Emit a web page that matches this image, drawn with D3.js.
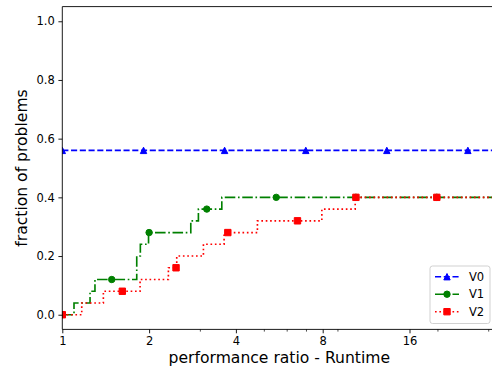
<!DOCTYPE html>
<html>
<head>
<meta charset="utf-8">
<script src="https://cdn.jsdelivr.net/npm/d3@7"></script>
<style>
  html, body { margin: 0; padding: 0; background: #fff; }
  svg { display: block; font-family: "DejaVu Sans", sans-serif; }
</style>
</head>
<body>
<svg id="chart" width="492" height="374"></svg>
<script>
// Performance profile: fraction of problems solved within a given runtime ratio.
const seriesNames = ["V0", "V1", "V2"];
const seriesColors = ["#0000ff", "#008000", "#ff0000"];

// Step change points (ratio, fraction) for each variant
const v0StepX = [1];
const v0StepY = [0.56];
const v1StepX = [1, 1.098, 1.248, 1.298, 1.812, 1.865, 1.991, 2.790, 2.965, 3.574];
const v1StepY = [0, 0.04, 0.08, 0.12, 0.20, 0.24, 0.28, 0.32, 0.36, 0.40];
const v2StepX = [1, 1.168, 1.388, 1.861, 2.333, 2.494, 3.086, 3.640, 4.750, 7.946, 10.37];
const v2StepY = [0, 0.04, 0.08, 0.12, 0.16, 0.20, 0.24, 0.28, 0.32, 0.36, 0.40];

// Marker positions along each profile
const v0MarkX = [1, 1.913, 3.655, 6.99, 13.35, 25.5];
const v0MarkY = [0.56, 0.56, 0.56, 0.56, 0.56, 0.56];
const v1MarkX = [1, 1.484, 2.00, 3.17, 5.52, 10.43, 19.9];
const v1MarkY = [0, 0.12, 0.28, 0.36, 0.40, 0.40, 0.40];
const v2MarkX = [1, 1.615, 2.48, 3.75, 6.54, 10.43, 19.9];
const v2MarkY = [0, 0.08, 0.16, 0.28, 0.32, 0.40, 0.40];

// Axis ticks
const xMajorTicks = [1, 2, 4, 8, 16];
const xMinorTicks = [3, 5, 6, 7, 9, 20, 30];
const yTicks = [0.0, 0.2, 0.4, 0.6, 0.8, 1.0];
const xDomain = [1, 32];
const yDomain = [-0.05, 1.05];

const xLabel = "performance ratio - Runtime";
const yLabel = "fraction of problems";

const svg = d3.select("#chart");
const plot = { left: 62.3, right: 496.3, top: 6.6, bottom: 329.4 };

const x = d3.scaleLog().base(2).domain(xDomain).range([plot.left, plot.right]);
const y = d3.scaleLinear().domain(yDomain).range([plot.bottom, plot.top]);

const lw = 1.65;
const dashes = [
  [3.7 * lw, 1.6 * lw].join(","),
  [6.4 * lw, 1.6 * lw, 1 * lw, 1.6 * lw].join(","),
  [1 * lw, 1.65 * lw].join(",")
];
const markerSize = 6.4;

svg.append("defs").append("clipPath").attr("id", "plotClip")
  .append("rect")
  .attr("x", plot.left).attr("y", plot.top)
  .attr("width", plot.right - plot.left).attr("height", plot.bottom - plot.top);

const steps = [
  d3.zip(v0StepX, v0StepY),
  d3.zip(v1StepX, v1StepY),
  d3.zip(v2StepX, v2StepY)
];
const marks = [
  d3.zip(v0MarkX, v0MarkY),
  d3.zip(v1MarkX, v1MarkY),
  d3.zip(v2MarkX, v2MarkY)
];

const line = d3.line()
  .x(d => x(d[0]))
  .y(d => y(d[1]))
  .curve(d3.curveStepAfter);

function markerPath(kind, s) {
  const h = s / 2;
  if (kind === 0) return `M0,${-h}L${-h},${h}L${h},${h}Z`;
  if (kind === 2) return `M${-h},${-h}H${h}V${h}H${-h}Z`;
  return d3.symbol(d3.symbolCircle, Math.PI * h * h)();
}

const plotG = svg.append("g").attr("clip-path", "url(#plotClip)");

seriesNames.forEach((name, i) => {
  const pts = steps[i].slice();
  pts.push([xDomain[1], pts[pts.length - 1][1]]);
  const g = plotG.append("g");
  g.append("path")
    .attr("d", line(pts))
    .attr("fill", "none")
    .attr("stroke", seriesColors[i])
    .attr("stroke-width", lw)
    .attr("stroke-dasharray", dashes[i]);
  g.selectAll("path.mk").data(marks[i]).join("path")
    .attr("class", "mk")
    .attr("transform", d => `translate(${x(d[0])},${y(d[1])})`)
    .attr("d", markerPath(i, markerSize))
    .attr("fill", seriesColors[i])
    .attr("stroke", seriesColors[i])
    .attr("stroke-width", 1);
});

// Spines (right spine sits beyond the visible area)
const spine = svg.append("g").attr("stroke", "#000").attr("stroke-width", 0.9).attr("fill", "none");
spine.append("line").attr("x1", plot.left).attr("x2", plot.left).attr("y1", plot.top).attr("y2", plot.bottom);
spine.append("line").attr("x1", plot.left).attr("x2", plot.right).attr("y1", plot.bottom).attr("y2", plot.bottom);
spine.append("line").attr("x1", plot.left).attr("x2", plot.right).attr("y1", plot.top).attr("y2", plot.top);
spine.append("line").attr("x1", plot.right).attr("x2", plot.right).attr("y1", plot.top).attr("y2", plot.bottom);

// X axis
const xAxis = d3.axisBottom(x)
  .tickValues(xMajorTicks)
  .tickFormat(d3.format("d"))
  .tickSize(3.9)
  .tickPadding(3.6);
const xg = svg.append("g").attr("transform", `translate(0,${plot.bottom})`).call(xAxis);
xg.select(".domain").remove();
xg.selectAll(".tick line").attr("stroke", "#000").attr("stroke-width", 0.9);
xg.selectAll(".tick text").attr("font-size", 11.5).attr("fill", "#000")
  .attr("font-family", "DejaVu Sans");

const xMinor = d3.axisBottom(x).tickValues(xMinorTicks).tickFormat("").tickSize(2.2);
const xmg = svg.append("g").attr("transform", `translate(0,${plot.bottom})`).call(xMinor);
xmg.select(".domain").remove();
xmg.selectAll(".tick line").attr("stroke", "#000").attr("stroke-width", 0.7);

// Y axis
const yAxis = d3.axisLeft(y)
  .tickValues(yTicks)
  .tickFormat(d3.format(".1f"))
  .tickSize(3.9)
  .tickPadding(3.6);
const yg = svg.append("g").attr("transform", `translate(${plot.left},0)`).call(yAxis);
yg.select(".domain").remove();
yg.selectAll(".tick line").attr("stroke", "#000").attr("stroke-width", 0.9);
yg.selectAll(".tick text").attr("font-size", 11.5).attr("fill", "#000")
  .attr("font-family", "DejaVu Sans");

// Axis labels
svg.append("text")
  .attr("x", (plot.left + plot.right) / 2)
  .attr("y", 362.5)
  .attr("text-anchor", "middle")
  .attr("font-size", 15.6)
  .attr("fill", "#000")
  .text(xLabel);

svg.append("text")
  .attr("transform", `translate(26.5,${(plot.top + plot.bottom) / 2}) rotate(-90)`)
  .attr("text-anchor", "middle")
  .attr("font-size", 15.6)
  .attr("fill", "#000")
  .text(yLabel);

// Legend (lower right)
const legend = svg.append("g");
const lgX = 430, lgY = 266, lgW = 60, lgH = 57.5;
legend.append("rect")
  .attr("x", lgX).attr("y", lgY).attr("width", lgW).attr("height", lgH)
  .attr("rx", 2.5).attr("ry", 2.5)
  .attr("fill", "#fff").attr("fill-opacity", 0.8)
  .attr("stroke", "#cccccc").attr("stroke-width", 0.9);

seriesNames.forEach((name, i) => {
  const cy = 276.7 + i * 17.5;
  const row = legend.append("g");
  row.append("line")
    .attr("x1", 435).attr("x2", 459).attr("y1", cy).attr("y2", cy)
    .attr("stroke", seriesColors[i])
    .attr("stroke-width", lw)
    .attr("stroke-dasharray", dashes[i]);
  row.append("path")
    .attr("transform", `translate(447,${cy})`)
    .attr("d", markerPath(i, markerSize))
    .attr("fill", seriesColors[i])
    .attr("stroke", seriesColors[i])
    .attr("stroke-width", 1);
  row.append("text")
    .attr("x", 469)
    .attr("y", cy + 4.1)
    .attr("font-size", 11.5)
    .attr("fill", "#000")
    .text(name);
});
</script>
</body>
</html>
